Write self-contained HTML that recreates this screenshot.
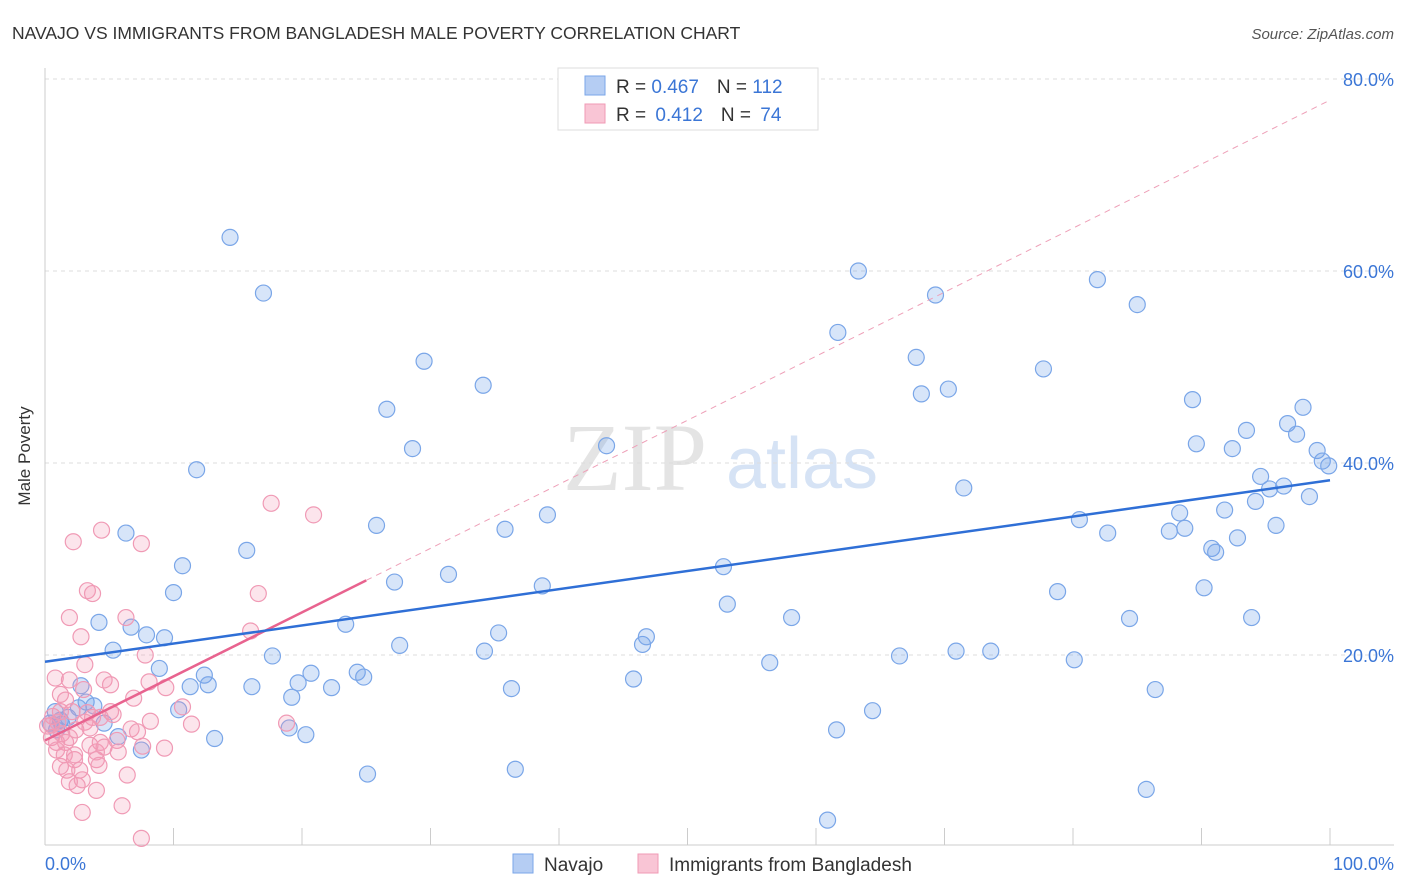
<!DOCTYPE html>
<html><head><meta charset="utf-8"><style>
body{margin:0;background:#fff;font-family:"Liberation Sans",sans-serif;}
svg{display:block}
</style></head><body>
<svg id="chart" width="1406" height="892">
<text x="12" y="39" font-size="17.5" fill="#333">NAVAJO VS IMMIGRANTS FROM BANGLADESH MALE POVERTY CORRELATION CHART</text>
<text x="1394" y="39" font-size="15" fill="#555" text-anchor="end" font-style="italic">Source: ZipAtlas.com</text>
<text x="30" y="456" font-size="17" fill="#333" text-anchor="middle" transform="rotate(-90 30 456)">Male Poverty</text>
<g>
<text x="635" y="490" font-size="96" fill="#e4e4e4" text-anchor="middle" font-family="Liberation Serif,serif">ZIP</text>
<text x="802" y="488" font-size="72" fill="#d6e3f5" text-anchor="middle">atlas</text>
</g>
<g id="grid"></g><g id="axes"></g><g id="pts"></g><g id="trend"></g>
<g>
<rect x="558" y="68" width="260" height="62" fill="#fff" stroke="#ddd"/>
<rect x="585" y="76" width="20" height="19" fill="#b5cdf3" stroke="#7aa6e8"/>
<rect x="585" y="104" width="20" height="19" fill="#f9c5d5" stroke="#f09ab5"/>
<text x="616" y="93" font-size="19" fill="#333">R = <tspan fill="#3b76d6">0.467</tspan><tspan dx="18">N = </tspan><tspan fill="#3b76d6">112</tspan></text>
<text x="616" y="121" font-size="19" fill="#333">R = <tspan fill="#3b76d6" dx="4">0.412</tspan><tspan dx="18">N = </tspan><tspan fill="#3b76d6" dx="4">74</tspan></text>
</g>
<g>
<rect x="513" y="854" width="20" height="19" fill="#b5cdf3" stroke="#7aa6e8"/>
<text x="544" y="871" font-size="19" fill="#333">Navajo</text>
<rect x="638" y="854" width="20" height="19" fill="#f9c5d5" stroke="#f09ab5"/>
<text x="669" y="871" font-size="19" fill="#333">Immigrants from Bangladesh</text>
</g>
</svg>
<script>
const blueX=[14.4,17.0,11.8,29.5,34.1,26.6,28.6,43.7,63.3,69.3,61.7,67.8,68.2,70.3,81.9,85.0,77.7,89.3,89.6,92.4,93.5,94.6,96.7,97.4,97.9,99.0,99.4,99.9,96.4,95.3,94.2,98.4,95.8,91.8,88.3,88.7,87.5,92.8,90.8,91.1,90.2,93.9,71.5,80.5,82.7,78.8,84.4,80.1,86.4,85.7,60.9,25.8,35.8,39.1,15.7,6.3,10.7,10.0,31.4,27.2,38.7,52.8,53.1,58.1,23.4,35.3,34.2,27.6,46.5,46.8,56.4,66.5,70.9,73.6,45.8,36.3,64.4,61.6,25.1,36.6,5.3,4.2,6.7,7.9,9.3,8.9,12.4,17.7,20.7,19.7,19.2,16.1,11.3,12.7,22.3,24.3,24.8,10.4,13.2,19.0,20.3,2.8,3.2,3.8,4.6,5.7,7.5,0.8,1.2,1.8,2.6,0.4,0.9,1.3];
const blueY=[63.5,57.7,39.3,50.6,48.1,45.6,41.5,41.8,60.0,57.5,53.6,51.0,47.2,47.7,59.1,56.5,49.8,46.6,42.0,41.5,43.4,38.6,44.1,43.0,45.8,41.3,40.2,39.7,37.6,37.3,36.0,36.5,33.5,35.1,34.8,33.2,32.9,32.2,31.1,30.7,27.0,23.9,37.4,34.1,32.7,26.6,23.8,19.5,16.4,6.0,2.8,33.5,33.1,34.6,30.9,32.7,29.3,26.5,28.4,27.6,27.2,29.2,25.3,23.9,23.2,22.3,20.4,21.0,21.1,21.9,19.2,19.9,20.4,20.4,17.5,16.5,14.2,12.2,7.6,8.1,20.5,23.4,22.9,22.1,21.8,18.6,17.9,19.9,18.1,17.1,15.6,16.7,16.7,16.9,16.6,18.2,17.7,14.3,11.3,12.4,11.7,16.8,15.1,14.7,12.9,11.5,10.1,14.1,13.2,13.5,14.5,12.9,12.2,12.8];
const pinkX=[17.6,20.9,2.2,4.4,7.5,3.3,3.7,1.9,6.3,2.8,16.0,16.6,7.8,3.1,0.8,1.9,3.0,1.2,4.6,5.1,6.9,8.1,9.4,10.7,11.4,8.2,6.7,5.6,4.3,4.0,7.6,9.3,3.3,3.7,1.3,0.5,0.9,1.6,1.9,0.2,0.6,1.0,2.4,4.3,5.3,18.8,2.3,1.2,1.7,4.0,2.7,2.9,1.9,2.5,4.0,6.4,6.0,2.9,7.5,0.9,1.5,0.5,3.1,3.5,2.3,4.6,5.7,3.5,2.1,1.2,7.2,1.6,4.2,5.1];
const pinkY=[35.8,34.6,31.8,33.0,31.6,26.7,26.4,23.9,23.9,21.9,22.5,26.4,20.0,19.0,17.6,17.4,16.4,15.9,17.4,16.9,15.5,17.2,16.6,14.6,12.8,13.1,12.3,11.1,10.9,9.9,10.5,10.3,14.0,13.5,11.8,11.4,10.9,10.9,11.4,12.6,13.6,13.0,12.2,13.5,13.8,12.9,9.1,8.4,8.0,9.1,8.0,7.0,6.8,6.4,5.9,7.5,4.3,3.6,0.9,10.1,9.6,12.7,13.0,12.4,9.6,10.4,9.9,10.6,14.1,14.1,12.0,15.3,8.5,14.1];
const yTicks=[20,40,60,80];
const xTickLabels=["0.0%","100.0%"];
const blueTrend=[19.3,38.2];
const pinkTrend=[11.1,77.8];
const pinkSolidEnd=25;

const NS="http://www.w3.org/2000/svg";
const X0=45,X1=1330,Y0=847,PX=9.6;
const sx=v=>X0+(X1-X0)*v/100;
const sy=v=>Y0-v*PX;
function mk(t,a,p){const e=document.createElementNS(NS,t);for(const k in a)e.setAttribute(k,a[k]);p.appendChild(e);return e;}
const grid=document.getElementById('grid'),axes=document.getElementById('axes'),pts=document.getElementById('pts'),trend=document.getElementById('trend');
yTicks.forEach(t=>{
 const l=mk('line',{x1:X0,x2:1394,y1:sy(t),y2:sy(t),stroke:'#ddd','stroke-dasharray':'4,4'},grid);
 
 
 const tx=mk('text',{x:1394,y:sy(t)+7,'font-size':18,fill:'#3b76d6','text-anchor':'end'},grid);
 tx.textContent=t.toFixed(1)+'%';
 
 
});
const ax=mk('line',{x1:X0,x2:X0,y1:68,y2:845,stroke:'#ccc'},axes);


const bx=mk('line',{x1:X0,x2:1394,y1:845,y2:845,stroke:'#ccc'},axes);


for(let i=0;i<=10;i++){
 const t=mk('line',{x1:sx(i*10),x2:sx(i*10),y1:828,y2:845,stroke:'#ccc'},axes);
 
 
}
const l0=mk('text',{x:45,y:870,'font-size':18,fill:'#3b76d6'},axes);l0.textContent=xTickLabels[0];


const l1=mk('text',{x:1394,y:870,'font-size':18,fill:'#3b76d6','text-anchor':'end'},axes);l1.textContent=xTickLabels[1];


blueX.forEach((x,i)=>{
 const c=mk('circle',{cx:sx(x),cy:sy(blueY[i]),r:8,fill:'rgba(110,160,235,0.28)',stroke:'#7aa6e8','stroke-width':1.2},pts);
 
 
});
pinkX.forEach((x,i)=>{
 const c=mk('circle',{cx:sx(x),cy:sy(pinkY[i]),r:8,fill:'rgba(245,150,180,0.25)',stroke:'#f09ab5','stroke-width':1.2},pts);
 
 
});
const pAt=x=>pinkTrend[0]+(pinkTrend[1]-pinkTrend[0])*x/100;
const pd=mk('line',{x1:sx(pinkSolidEnd),y1:sy(pAt(pinkSolidEnd)),x2:sx(100),y2:sy(pAt(100)),stroke:'#eea0b8','stroke-width':1,'stroke-dasharray':'6,5'},trend);


const ps=mk('line',{x1:sx(0),y1:sy(pAt(0)),x2:sx(pinkSolidEnd),y2:sy(pAt(pinkSolidEnd)),stroke:'#e8638f','stroke-width':2.5},trend);


const bl=mk('line',{x1:sx(0),y1:sy(blueTrend[0]),x2:sx(100),y2:sy(blueTrend[1]),stroke:'#2f6fd6','stroke-width':2.5},trend);


</script>
</body></html>
